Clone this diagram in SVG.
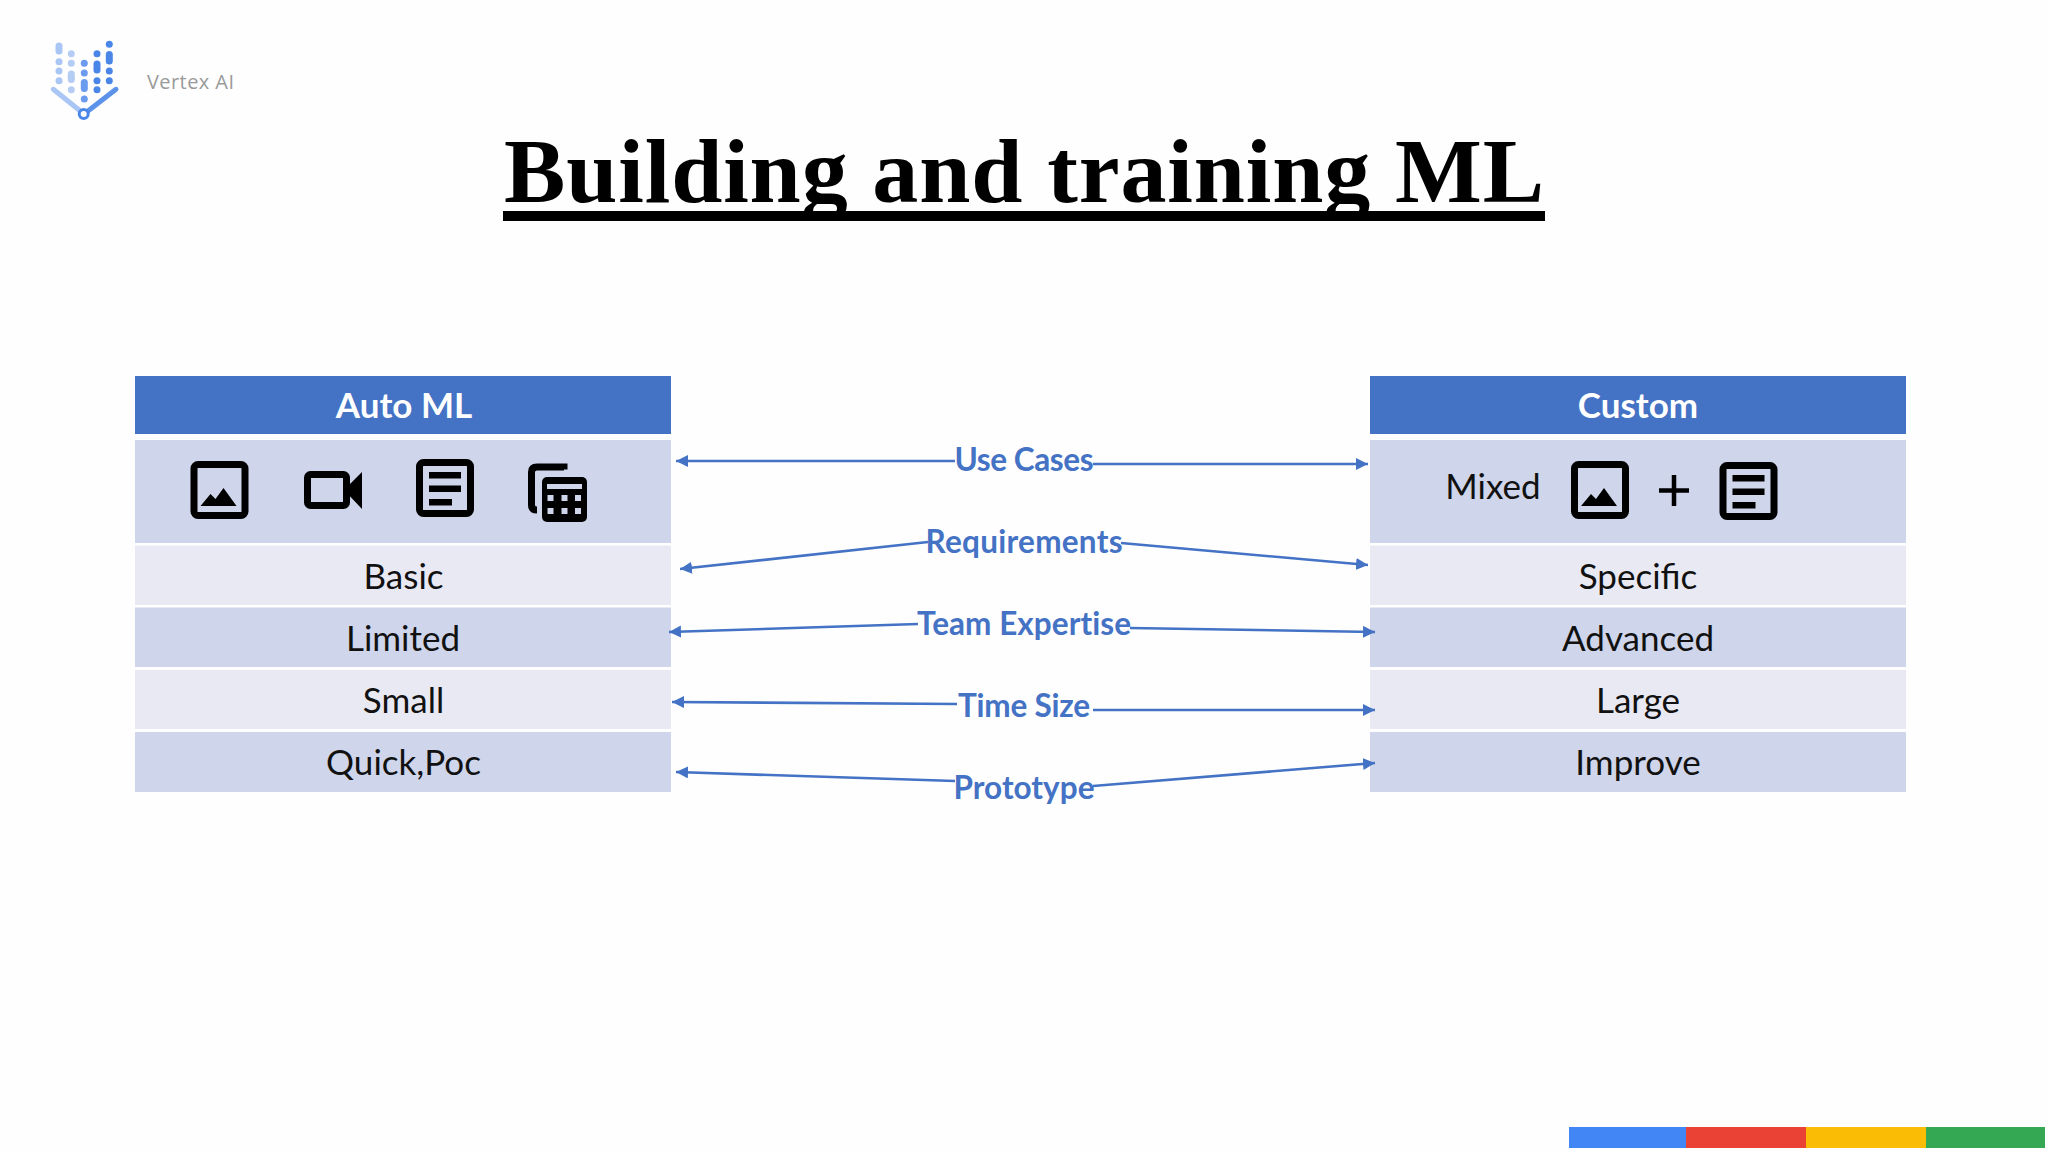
<svg xmlns="http://www.w3.org/2000/svg" width="2048" height="1152" viewBox="0 0 2048 1152">
<style>
.hd{fill:#4472C4}.a{fill:#CFD5EA}.b{fill:#E9E9F4}
.t{font-family:Lato,"Open Sans",sans-serif;font-size:35px;text-anchor:middle;fill:#111}
.h{font-family:Lato,"Open Sans",sans-serif;font-size:35px;font-weight:700;text-anchor:middle;fill:#fff}
.l{font-family:Lato,"Open Sans",sans-serif;font-size:31.500px;font-weight:700;text-anchor:middle;fill:#4472C4;font-variant-ligatures:none}
.c{fill:none;stroke:#4472C4;stroke-width:2.600;marker-end:url(#ah)}
.ic{fill:none;stroke:#000;stroke-width:7}
.lg1{fill:#a9c6f5}.lg2{fill:#b5cdf5}.lg3{fill:#6a9bee}.lg4{fill:#4a86e8}
</style>
<defs>
<marker id="ah" markerUnits="userSpaceOnUse" markerWidth="14" markerHeight="14" refX="12" refY="6" orient="auto"><path d="M0 0L12 6L0 12Z" fill="#4472C4"/></marker>
<g id="imgI"><rect x="3.500" y="3.500" width="51" height="51" rx="4" class="ic"/><path d="M10 45L20 33L25 38L33 27L46 45Z" fill="#000"/></g>
<g id="docI"><rect x="3.500" y="3.500" width="51" height="51" rx="4" class="ic"/><path d="M13 13H45V19.500H13ZM13 26.500H45V33H13ZM13 40H36V46.500H13Z" fill="#000"/></g>
</defs>
<rect width="2048" height="1152" fill="#fefefe"/>
<g id="logo">
<rect class="lg1" x="55.500" y="42.500" width="7" height="12" rx="3.500"/><circle class="lg1" cx="59" cy="61.700" r="3.500"/><circle class="lg1" cx="59" cy="71" r="3.500"/><circle class="lg1" cx="59" cy="80.700" r="3.500"/>
<circle class="lg2" cx="71.300" cy="53.700" r="3.500"/><circle class="lg2" cx="71.300" cy="63.300" r="3.500"/><rect class="lg2" x="67.800" y="70.500" width="7" height="12.500" rx="3.500"/><circle class="lg2" cx="71.300" cy="89.700" r="3.500"/>
<circle class="lg3" cx="84.300" cy="63.300" r="3.500"/><circle class="lg3" cx="84.300" cy="73" r="3.500"/><rect class="lg3" x="80.800" y="79" width="7" height="13" rx="3.500"/><circle class="lg3" cx="84.300" cy="99" r="3.500"/>
<circle class="lg4" cx="97" cy="53.700" r="3.500"/><rect class="lg4" x="93.500" y="60.500" width="7" height="13" rx="3.500"/><circle class="lg4" cx="97" cy="80.700" r="3.500"/><circle class="lg4" cx="97" cy="89.700" r="3.500"/>
<circle class="lg4" cx="109.300" cy="44.300" r="3.500"/><rect class="lg4" x="105.800" y="51" width="7" height="13.500" rx="3.500"/><circle class="lg4" cx="109.300" cy="71" r="3.500"/><circle class="lg4" cx="109.300" cy="80.700" r="3.500"/>
<path d="M53.300 89.300L80 110.700" stroke="#a9c6f5" stroke-width="5" stroke-linecap="round" fill="none"/>
<path d="M116 89.300L88.300 110.700" stroke="#5c92ea" stroke-width="5" stroke-linecap="round" fill="none"/>
<circle cx="83.700" cy="114" r="4.500" fill="#fff" stroke="#4a86e8" stroke-width="3"/>
<text x="147" y="89" font-family="Open Sans, sans-serif" font-size="20" fill="#9a9a9a" textLength="87">Vertex AI</text>
</g>
<text id="title" x="1024" y="202" font-family="Liberation Serif, serif" font-size="92" font-weight="700" text-anchor="middle" fill="#000" textLength="1040">Building and training ML</text>
<rect x="503" y="211" width="1042" height="10" fill="#000"/>
<g id="automl">
<rect class="hd" x="135" y="376" width="536" height="58"/>
<text class="h" x="404" y="418">Auto ML</text>
<rect class="a" x="135" y="440" width="536" height="103"/>
<use href="#imgI" x="190.500" y="461"/>
<rect x="307.500" y="474.500" width="39" height="31" rx="3" class="ic"/><path d="M344 490L362 472V509Z" fill="#000"/>
<use href="#docI" x="416" y="459"/>
<path d="M564 469.500V467H537Q531.500 467 531.500 472V505Q531.500 510 537 510" class="ic" stroke-width="6"/>
<rect x="542" y="477" width="45" height="45" rx="5" fill="#000"/>
<path d="M547 484H582V489H547ZM547.500 495h6v6h-6zM561.500 495h6v6h-6zM575 495h6v6h-6zM547.500 508h6v6h-6zM561.500 508h6v6h-6zM575 508h6v6h-6z" fill="#CFD5EA"/>
<rect class="b" x="135" y="545.500" width="536" height="59.500"/><text class="t" x="403.500" y="588.500">Basic</text>
<rect class="a" x="135" y="607.500" width="536" height="59.500"/><text class="t" x="403" y="651">Limited</text>
<rect class="b" x="135" y="670" width="536" height="59"/><text class="t" x="403.500" y="713">Small</text>
<rect class="a" x="135" y="732" width="536" height="60"/><text class="t" x="403.500" y="775">Quick,Poc</text>
</g>
<g id="custom">
<rect class="hd" x="1370" y="376" width="536" height="58"/>
<text class="h" x="1638" y="418">Custom</text>
<rect class="a" x="1370" y="440" width="536" height="103"/>
<text class="t" x="1493" y="499">Mixed</text>
<use href="#imgI" x="1571" y="461"/>
<path d="M1659 490.500H1689M1674 475V506" stroke="#000" stroke-width="4.500" fill="none"/>
<use href="#docI" x="1719.500" y="462"/>
<rect class="b" x="1370" y="545.500" width="536" height="59.500"/><text class="t" x="1638" y="588.500">Specific</text>
<rect class="a" x="1370" y="607.500" width="536" height="59.500"/><text class="t" x="1638" y="651">Advanced</text>
<rect class="b" x="1370" y="670" width="536" height="59"/><text class="t" x="1638" y="713">Large</text>
<rect class="a" x="1370" y="732" width="536" height="60"/><text class="t" x="1638" y="775">Improve</text>
</g>
<g id="connectors">
<line class="c" x1="955" y1="461" x2="676" y2="461"/><line class="c" x1="1093" y1="464" x2="1368" y2="464"/>
<line class="c" x1="928" y1="542" x2="680" y2="569"/><line class="c" x1="1121" y1="543" x2="1368" y2="565"/>
<line class="c" x1="918" y1="624" x2="669" y2="632"/><line class="c" x1="1130" y1="628" x2="1375" y2="632"/>
<line class="c" x1="957" y1="704" x2="672" y2="702"/><line class="c" x1="1093" y1="710" x2="1375" y2="710"/>
<line class="c" x1="955" y1="781" x2="676" y2="772"/><line class="c" x1="1093" y1="786" x2="1375" y2="763"/>
</g>
<g id="labels">
<text class="l" x="1024" y="470.500" textLength="139">Use Cases</text>
<text class="l" x="1024" y="552.500" textLength="197">Requirements</text>
<text class="l" x="1024" y="634.500" textLength="214">Team Expertise</text>
<text class="l" x="1024" y="716.500" textLength="132">Time Size</text>
<text class="l" x="1024" y="798.500" textLength="141">Prototype</text>
</g>
<g id="bar">
<rect x="1569" y="1127" width="117" height="21" fill="#4285F4"/>
<rect x="1686" y="1127" width="120" height="21" fill="#EA4335"/>
<rect x="1806" y="1127" width="120" height="21" fill="#FBBC05"/>
<rect x="1926" y="1127" width="119" height="21" fill="#34A853"/>
</g>
</svg>
